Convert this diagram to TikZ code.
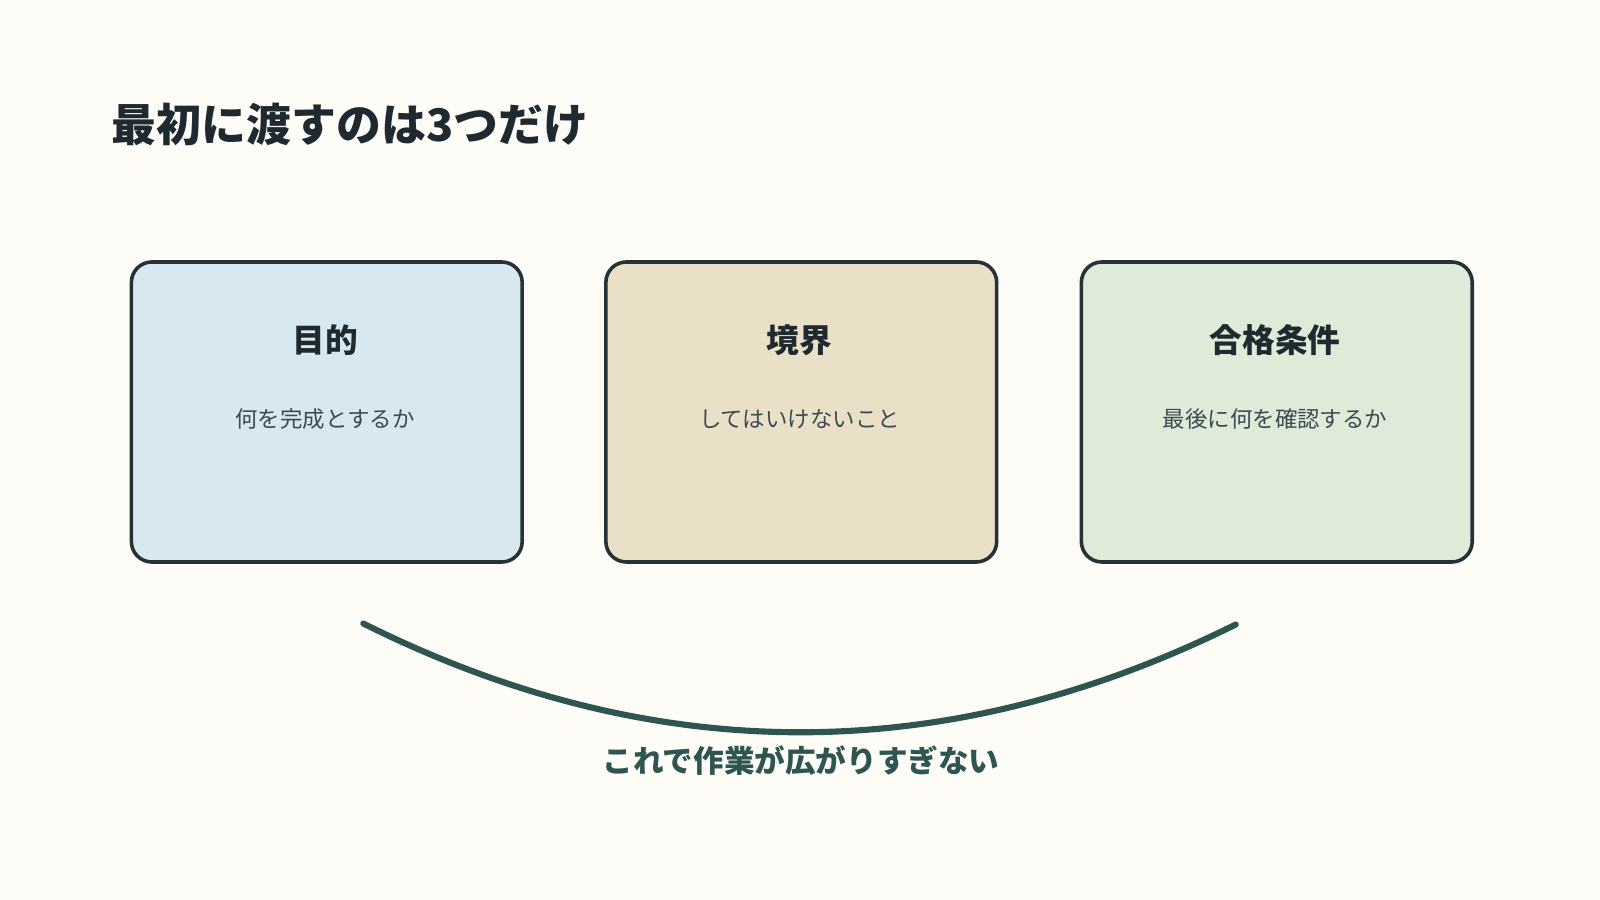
\documentclass[tikz,border=0pt]{standalone}
\usepackage{fontspec}
\setmainfont{Noto Sans CJK JP}
\newfontfamily\jpb{Noto Sans CJK JP}[BoldFont={* Bold}]
\definecolor{bg}{HTML}{FDFCF7}
\definecolor{ink}{HTML}{1F2A30}
\definecolor{edge}{HTML}{263238}
\definecolor{sub}{HTML}{3D4A52}
\definecolor{teal}{HTML}{2F5550}
\definecolor{fa}{HTML}{D8E8F0}
\definecolor{fb}{HTML}{EAE0C8}
\definecolor{fc}{HTML}{DDEBD8}
\tikzset{card/.style={draw=edge,line width=3.5pt,rounded corners=20pt,minimum width=383pt,minimum height=294pt,anchor=north west},
ttl/.style={font=\fontsize{32}{36}\selectfont\bfseries,text=ink},
sbt/.style={font=\fontsize{22}{26}\selectfont,text=sub}}
\begin{document}
\begin{tikzpicture}[x=1pt,y=-1pt]
\useasboundingbox (0,0) rectangle (1568,882);
\fill[bg] (0,0) rectangle (1568,882);
\node[anchor=west,font=\fontsize{44}{50}\selectfont\bfseries,text=ink] (title) at (106,122) {最初に渡すのは3つだけ};
\node[card,fill=fa] (a) at (127,255) {};
\node[card,fill=fb] (b) at (592,255) {};
\node[card,fill=fc] (c) at (1058,255) {};
\node[ttl] (at) at (318.5,333) {目的};
\node[sbt] (as) at (318.5,411) {何を完成とするか};
\node[ttl] (bt) at (783.5,333) {境界};
\node[sbt] (bs) at (783.5,411) {してはいけないこと};
\node[ttl] (ct) at (1249.5,333) {合格条件};
\node[sbt] (cs) at (1249.5,411) {最後に何を確認するか};
\coordinate (l) at (356,611);
\coordinate (r) at (1211,612);
\draw[teal,line width=6pt,line cap=round] (l) .. controls (640,753) and (927,753) .. (r);
\node[font=\fontsize{30}{34}\selectfont\bfseries,text=teal] (bot) at (785,745) {これで作業が広がりすぎない};
\end{tikzpicture}
\end{document}
